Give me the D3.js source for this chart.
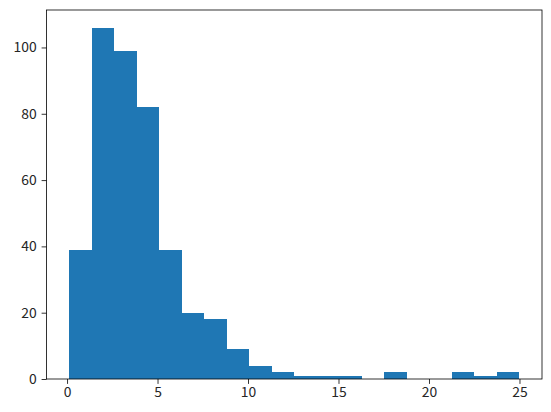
<!DOCTYPE html>
<html><head><meta charset="utf-8">
<script src="https://cdn.jsdelivr.net/npm/d3@7"></script>
<style>body{margin:0;background:#fff}svg{display:block}</style>
</head><body><svg id="c" width="551" height="412"></svg>
<script>
const counts = [39,106,99,82,39,20,18,9,4,2,1,1,1,0,2,0,0,2,1,2];
const dataMin = 0.11, dataMax = 25.0;
const xTicks = [0,5,10,15,20,25];
const yTicks = [0,20,40,60,80,100];

const W=551,H=412, L=46.5, R=542, T=10, B=379;
const n = counts.length, bw = (dataMax-dataMin)/n;
const edges = d3.range(n+1).map(i=>dataMin+i*bw);
const span = dataMax-dataMin;
const x = d3.scaleLinear().domain([dataMin-0.05*span, dataMax+0.05*span]).range([L,R]);
const y = d3.scaleLinear().domain([0, d3.max(counts)*1.05]).range([B,T]);
const svg = d3.select("#c");
svg.append("g").selectAll("rect").data(counts).join("rect")
  .attr("x",(d,i)=>x(edges[i])).attr("width",(d,i)=>x(edges[i+1])-x(edges[i]))
  .attr("y",d=>y(d)).attr("height",d=>y(0)-y(d)).attr("fill","#1f77b4")
  .attr("shape-rendering","crispEdges");
const font = "'Noto Sans CJK JP', 'DejaVu Sans', sans-serif";
const gx = svg.append("g").attr("transform",`translate(0,${B})`)
  .call(d3.axisBottom(x).tickValues(xTicks).tickSize(4.9).tickPadding(3).tickFormat(d3.format("d")));
const gy = svg.append("g").attr("transform",`translate(${L},0)`)
  .call(d3.axisLeft(y).tickValues(yTicks).tickSize(4.9).tickPadding(4.9).tickFormat(d3.format("d")));
[gx,gy].forEach(g=>{g.select(".domain").remove();
  g.selectAll("text").attr("font-family",font).attr("font-size","13.9px").attr("fill","#262626");
  g.selectAll("line").attr("stroke","#000").attr("stroke-width",0.8);});
svg.append("rect").attr("x",L).attr("y",T).attr("width",R-L).attr("height",B-T)
  .attr("fill","none").attr("stroke","#000").attr("stroke-width",0.8);
</script></body></html>
